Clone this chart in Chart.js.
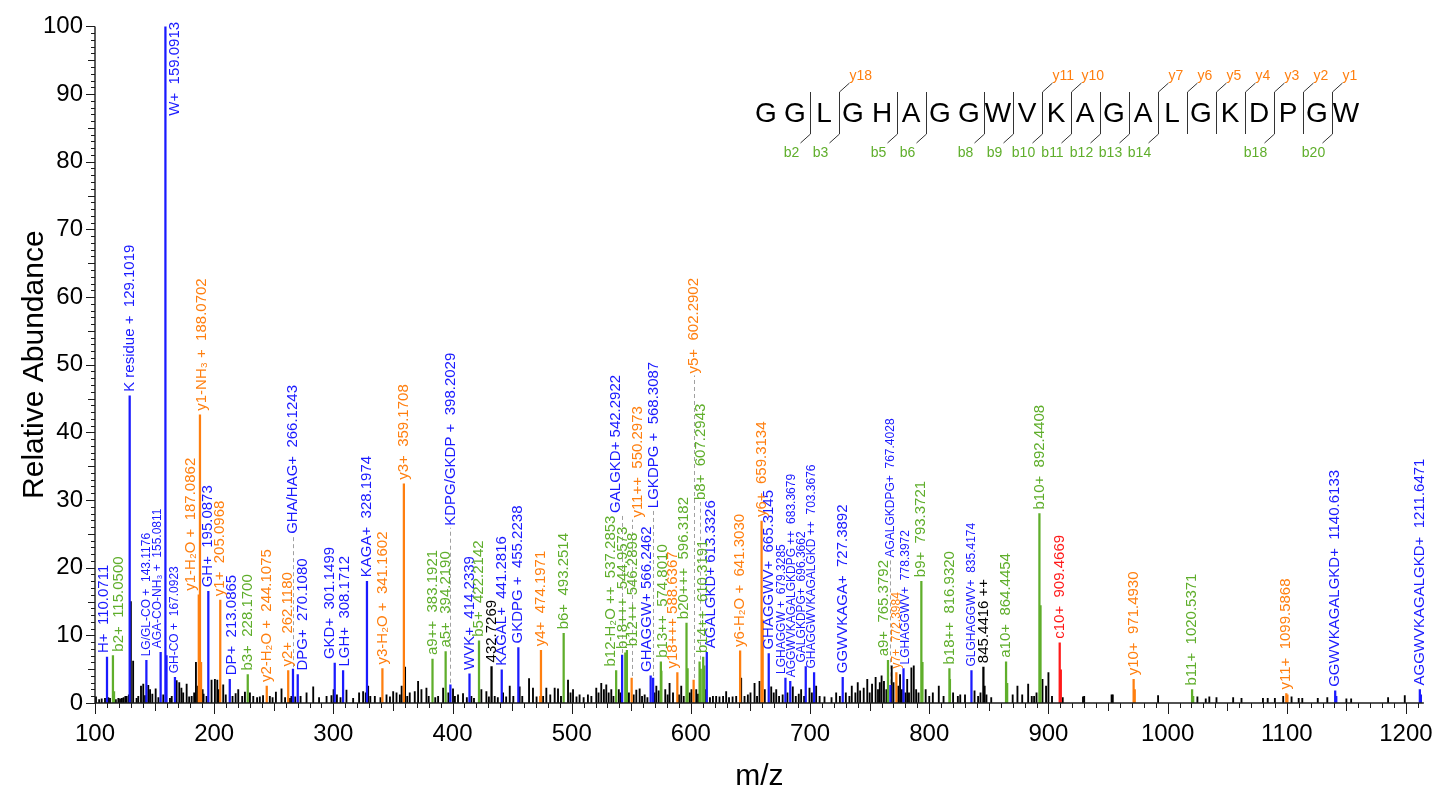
<!DOCTYPE html>
<html>
<head>
<meta charset="utf-8">
<title>MS/MS spectrum GGLGHAGGWVKAGALGKDPGW</title>
<script src="https://cdn.jsdelivr.net/npm/chart.js@4.4.1/dist/chart.umd.min.js"></script>
<style>
  html, body { margin: 0; padding: 0; background: #ffffff; }
  #wrap { width: 1450px; height: 802px; }
</style>
</head>
<body>
<div id="wrap"><canvas id="spec" width="1450" height="802"></canvas></div>
<script>
// ---- Annotated fragment ions: m/z, relative abundance, label ('#' = m/z) ----
const internalMz  = [110.0711, 129.1019, 143.1176, 155.0811, 159.0913, 167.0923, 195.0873, 213.0865, 266.1243, 270.1080,
                     301.1499, 308.1712, 328.1974, 398.2029, 414.2339, 441.2816, 455.2238, 542.2922, 566.2462, 568.3087,
                     613.3326, 665.3145, 679.3285, 683.3679, 696.3662, 703.3676, 727.3892, 767.4028, 778.3972, 835.4174,
                     1140.6133, 1211.6471];
const internalInt = [6.8, 45.4, 6.3, 7.5, 100, 3.8, 16.5, 3.5, 5.0, 4.2,
                     5.9, 4.8, 18.0, 2.7, 4.3, 4.9, 8.2, 7.1, 4.0, 3.7,
                     7.5, 7.3, 3.7, 3.2, 5.4, 4.5, 3.8, 2.6, 5.1, 4.8,
                     1.8, 2.0];
const internalLbl = ['H+  #', 'K residue +  #', 'LG/GL-CO +  #', 'AGA-CO-NH\u2083 +  #', 'W+  #', 'GH-CO +  #', 'GH+  #', 'DP+  #', 'GHA/HAG+  #', 'DPG+  #',
                     'GKD+  #', 'LGH+  #', 'KAGA+  #', 'KDPG/GKDP +  #', 'WVK+  #', 'KAGAL+  #', 'GKDPG +  #', 'GALGKD+ #', 'GHAGGW+ #', 'LGKDPG +  #',
                     'AGALGKD+ #', 'GHAGGWV+  #', 'LGHAGGW +  #', 'AGGWVKAGALGKDPG ++  #', 'GALGKDPG+  #', 'GHAGGWVKAGALGKD ++  #', 'GGWVKAGA+  #', 'AGALGKDPG+  #', 'LGHAGGWV+  #', 'GLGHAGGWV+  #',
                     'GGWVKAGALGKD+  #', 'AGGWVKAGALGKD+  #'];

const yIonMz  = [187.0862, 188.0702, 205.0968, 244.1075, 262.1180, 341.1602, 359.1708, 474.1971, 550.2973, 588.6367,
                 602.2902, 641.3030, 659.3134, 772.3984, 971.4930, 1099.5868];
const yIonInt = [16.0, 42.6, 15.2, 2.5, 4.8, 5.1, 32.4, 7.8, 3.7, 4.5,
                 3.4, 7.7, 26.9, 4.5, 3.5, 1.4];
const yIonLbl = ['y1-H\u2082O +  #', 'y1-NH\u2083 +  #', 'y1+  #', 'y2-H\u2082O +  #', 'y2+  #', 'y3-H\u2082O +  #', 'y3+  #', 'y4+  #', 'y11++  #', 'y18+++ #',
                 'y5+  #', 'y6-H\u2082O +  #', 'y6+  #', 'y7+  #', 'y10+  #', 'y11+  #'];

const bIonMz  = [115.0500, 228.1700, 383.1921, 394.2190, 422.2142, 493.2514, 537.2853, 544.9573, 546.2898, 574.8010,
                 596.3182, 607.2943, 610.3191, 765.3792, 793.3721, 816.9320, 864.4454, 892.4408, 1020.5371];
const bIonInt = [7.0, 4.2, 6.5, 7.6, 9.2, 10.3, 4.8, 7.4, 7.8, 6.1,
                 11.8, 6.1, 6.8, 6.3, 18.0, 5.1, 6.1, 28.0, 2.0];
const bIonLbl = ['b2+  #', 'b3+  #', 'a9++  #', 'a5+  #', 'b5+  #', 'b6+  #', 'b12-H\u2082O ++  #', 'b18+++  #', 'b12++  #', 'b13++  #',
                 'b20+++  #', 'b8+  #', 'b14++  #', 'a9+  #', 'b9+  #', 'b18++  #', 'a10+  #', 'b10+  #', 'b11+  #'];

const cIonMz  = [909.4669];
const cIonInt = [8.9];
const cIonLbl = ['c10+  #'];

const otherMz  = [432.7269, 845.4416];
const otherInt = [5.4, 5.3];
const otherLbl = ['#', '# ++'];

// ---- Unlabelled isotope / satellite peaks of the annotated ions ----
const internalIso = [[160.09, 7.0], [1141.6, 1.0], [1212.6, 1.2]];
const yIonIso     = [[189.07, 6.0], [660.32, 12.3], [972.50, 2.0], [1100.59, 1.2], [473.5, 1.0]];
const bIonIso     = [[116.05, 1.7], [575.30, 4.7], [597.32, 5.1], [794.37, 6.0], [817.43, 3.5], [865.45, 2.9], [893.44, 14.4], [1021.54, 1.0], [608.3, 5.0], [611.3, 5.5]];
const cIonIso     = [[910.47, 4.9]];

// ---- Unassigned peaks ----
const noisePeaks = [
  [100.8,0.9],[103.5,0.5],[105.6,0.6],[108.4,0.7],[111.2,0.8],[112.6,0.7],[117.5,0.5],[119.6,0.7],[121.0,0.6],[122.6,0.7],
  [124.0,0.8],[125.5,1.0],[126.6,1.0],[128.4,1.2],[130.1,15.0],[132.0,6.2],[134.9,0.7],[136.3,1.0],[138.6,2.5],[140.5,2.8],
  [142.0,1.1],[144.7,2.6],[146.2,2.0],[148.1,1.3],[150.9,2.1],[153.2,0.8],[157.3,1.2],[162.9,0.7],[164.4,1.0],
  [168.5,3.3],[170.7,3.0],[172.5,2.2],[174.0,1.5],[176.9,2.8],[179.0,0.9],[181.1,1.0],[183.2,1.5],[184.7,6.0],[186.2,2.5],
  [190.3,2.0],[191.1,1.3],[193.6,1.0],[197.8,3.4],[200.6,3.5],[202.6,3.4],[204.0,2.0],[207.6,2.7],[209.7,1.2],[215.4,1.0],
  [218.0,1.4],[220.2,2.0],[223.5,1.0],[225.8,1.6],[230.0,1.5],[232.8,1.0],[236.0,0.8],[238.3,0.9],[241.0,1.1],[246.7,1.0],
  [249.0,0.8],[251.8,1.6],[256.5,2.1],[259.5,0.8],[263.5,0.7],[264.8,1.0],[268.0,0.9],[272.5,1.0],[277.5,1.5],[283.1,2.4],
  [288.0,0.8],[294.3,1.0],[298.4,1.1],[300.2,2.0],[303.0,1.2],[306.0,0.8],[311.0,1.9],[316.6,0.7],[321.6,1.5],[325.0,1.7],
  [327.2,1.5],[329.2,2.5],[331.0,1.0],[334.8,1.0],[339.5,0.8],[344.6,1.2],[347.5,0.9],[350.2,1.7],[353.0,1.5],[355.8,1.2],
  [357.3,2.5],[360.2,5.3],[362.0,1.0],[364.1,1.5],[368.3,1.7],[371.1,3.2],[373.9,2.0],[378.1,2.2],[380.0,1.0],[385.5,0.8],
  [387.9,1.0],[392.1,2.2],[396.5,1.5],[400.4,2.1],[402.0,1.0],[404.6,1.2],[408.8,1.4],[412.0,0.8],[415.8,1.0],[418.0,0.7],
  [424.2,2.0],[428.4,1.7],[430.5,0.9],[435.4,1.0],[438.0,0.8],[442.4,1.5],[445.0,0.9],[448.0,2.5],[451.0,1.0],[456.3,2.4],
  [458.5,1.0],[464.2,3.6],[467.5,2.2],[470.5,0.9],[476.0,1.0],[478.7,2.2],[482.0,1.2],[485.7,2.2],[488.5,2.1],[491.0,1.0],
  [496.9,3.4],[499.0,1.5],[501.1,2.0],[504.0,0.9],[506.6,1.2],[510.0,0.8],[513.6,1.2],[516.5,1.0],[520.6,2.2],[522.5,1.5],
  [524.8,2.9],[527.0,2.0],[529.0,2.7],[531.0,1.5],[533.2,2.0],[535.0,1.0],[539.5,2.0],[541.0,1.5],[548.0,1.5],[552.0,1.2],
  [554.2,1.9],[557.0,2.1],[559.0,1.0],[561.2,1.2],[563.5,0.8],[569.5,1.5],[571.0,2.5],[573.0,1.8],[578.5,2.0],[580.5,1.2],
  [582.1,2.9],[585.0,1.5],[590.0,1.2],[591.9,2.5],[594.0,1.0],[599.0,1.5],[600.5,2.0],[604.5,2.0],[606.0,1.3],[612.0,2.0],
  [616.0,0.8],[618.5,1.0],[621.2,1.0],[624.0,0.9],[627.0,1.0],[629.6,1.7],[632.0,0.8],[635.0,0.9],[638.0,1.0],[642.2,3.7],
  [645.0,1.0],[647.8,1.2],[650.0,1.5],[653.4,2.9],[655.5,1.0],[657.6,3.2],[662.0,2.0],[667.4,2.4],[669.5,1.5],[671.6,2.0],
  [674.0,1.0],[677.0,1.2],[681.0,1.5],[685.5,2.4],[688.0,1.0],[690.5,1.3],[692.5,2.0],[695.0,1.0],[699.5,2.2],[701.5,1.5],
  [705.1,2.5],[708.0,1.0],[712.1,0.9],[718.0,0.8],[721.9,1.5],[725.0,1.0],[730.0,1.5],[733.0,1.0],[735.0,2.5],[738.0,1.5],
  [740.0,3.0],[742.0,1.8],[745.0,2.2],[748.0,3.5],[750.0,1.5],[752.0,2.8],[755.0,3.8],[757.0,2.0],[758.5,3.0],[760.0,4.0],
  [762.0,3.2],[764.0,2.0],[768.5,5.5],[770.0,3.0],[774.0,2.5],[775.5,4.2],[777.0,2.0],[780.0,1.5],[781.5,3.5],[783.0,1.5],
  [785.0,5.2],[787.0,5.5],[789.0,2.0],[791.0,1.5],[797.0,2.0],[800.0,1.0],[803.0,1.5],[808.0,2.5],[812.0,1.0],[820.0,1.5],
  [824.0,1.0],[826.0,1.2],[830.0,1.2],[838.0,1.8],[841.0,1.0],[843.0,1.5],[846.5,2.5],[848.0,1.2],[852.0,0.8],[870.0,1.2],
  [874.0,2.5],[878.0,1.2],[883.0,2.8],[886.0,1.0],[888.0,1.0],[890.0,1.5],[895.0,3.5],[898.0,2.5],[900.0,4.5],[903.0,1.0],
  [912.0,0.8],[929.0,0.9],[930.0,1.0],[953.0,1.2],[954.0,1.2],[992.0,1.1],[1025.0,0.9],[1032.0,0.6],[1035.0,0.9],[1041.0,0.8],
  [1055.0,0.8],[1062.0,0.7],[1080.0,0.7],[1084.0,0.7],[1090.0,0.7],[1097.0,1.0],[1104.0,0.9],[1110.0,0.7],[1113.0,0.7],[1126.0,0.7],
  [1134.0,0.8],[1150.0,0.6],[1154.0,0.6],[1185.0,0.8],[1199.0,1.1]
];

// ---- Peptide sequence and observed cleavage sites ----
const sequence  = ['G','G','L','G','H','A','G','G','W','V','K','A','G','A','L','G','K','D','P','G','W'];
const bSeries   = [2, 3, 5, 6, 8, 9, 10, 11, 12, 13, 14, 18, 20];
const ySeries   = [18, 11, 10, 7, 6, 5, 4, 3, 2, 1];

// ---- Axis ticks ----
const xTickValues = [100, 200, 300, 400, 500, 600, 700, 800, 900, 1000, 1100, 1200];
const yTickValues = [0, 10, 20, 30, 40, 50, 60, 70, 80, 90, 100];

// ---- Styling ----
const FONT = '"Liberation Sans", Arial, Helvetica, sans-serif';
const COLORS = { internal: '#1a1aff', y: '#ff7f0f', b: '#5fae2b', c: '#ff1a1a', other: '#000000', noise: '#000000' };
const smallLabels = new Set(['143.1176', '155.0811', '167.0923', '679.3285', '683.3679', '696.3662', '703.3676',
                             '767.4028', '772.3984', '778.3972', '835.4174']);
// label placement tweaks: dx (px, horizontal shift), at (abundance where the label starts), lead (dashed leader)
const labelPlace = {
  '110.0711': { dx: -3 }, '115.0500': { dx: 6 }, '155.0811': { dx: -3 }, '159.0913': { dx: 9, at: 86.8 },
  '187.0862': { dx: -8 }, '188.0702': { dx: 2 },
  '213.0865': { dx: 2 }, '270.1080': { dx: 5 }, '301.1499': { dx: -5 }, '308.1712': { dx: 2 },
  '266.1243': { at: 25.0, lead: true }, '398.2029': { at: 26.2, lead: true },
  '537.2853': { dx: -5 }, '542.2922': { dx: -6, at: 28.1, lead: true }, '544.9573': { dx: -2 }, '546.2898': { dx: 6 },
  '550.2973': { dx: 6, at: 27.4, lead: true }, '566.2462': { dx: -4 }, '568.3087': { dx: 1, at: 28.8, lead: true },
  '574.8010': { dx: 2 }, '588.6367': { dx: -4 }, '596.3182': { dx: -3 }, '602.2902': { at: 48.7, lead: true },
  '607.2943': { dx: 1, at: 30.0, lead: true }, '613.3326': { dx: 4 },
  '679.3285': { dx: -4 }, '683.3679': { dx: 1 }, '696.3662': { dx: -4 }, '703.3676': { dx: -2 },
  '765.3792': { dx: -4 }, '767.4028': { at: 21.5, lead: true }, '778.3972': { dx: 2 }
};

function pts(mz, it) { return mz.map((m, i) => ({ x: m, y: it[i] })); }
function pairPts(arr) { return arr.map(p => ({ x: p[0], y: p[1] })); }
function stick(data, color, w, order) {
  return { type: 'bar', data, backgroundColor: color, borderWidth: 0, barThickness: w,
           grouped: false, order };
}

const annotated = [
  { mz: internalMz, it: internalInt, lbl: internalLbl, color: COLORS.internal },
  { mz: yIonMz, it: yIonInt, lbl: yIonLbl, color: COLORS.y },
  { mz: bIonMz, it: bIonInt, lbl: bIonLbl, color: COLORS.b },
  { mz: cIonMz, it: cIonInt, lbl: cIonLbl, color: COLORS.c },
  { mz: otherMz, it: otherInt, lbl: otherLbl, color: COLORS.other }
];

// Peak labels, dashed leaders and the sequence coverage map
const annotationPlugin = {
  id: 'annotations',
  afterDatasetsDraw(chart) {
    const ctx = chart.ctx, xs = chart.scales.x, ys = chart.scales.y;
    ctx.save();
    annotated.forEach(g => {
      g.mz.forEach((m, i) => {
        const key = m.toFixed(4);
        const pl = labelPlace[key] || {};
        const px = xs.getPixelForValue(m);
        const top = ys.getPixelForValue(g.it[i]);
        const startY = pl.at !== undefined ? ys.getPixelForValue(pl.at) : top - 4;
        if (pl.lead) {
          ctx.save();
          ctx.strokeStyle = '#a0a0a0';
          ctx.lineWidth = 1;
          ctx.setLineDash([4, 3]);
          ctx.beginPath();
          ctx.moveTo(Math.round(px) + 0.5, top - 2);
          ctx.lineTo(Math.round(px) + 0.5, startY + 2);
          ctx.stroke();
          ctx.restore();
        }
        const text = g.lbl[i].replace('#', key);
        const size = smallLabels.has(key) ? 12 : 15;
        ctx.save();
        ctx.translate(px + (pl.dx || 0), startY);
        ctx.rotate(-Math.PI / 2);
        ctx.font = size + 'px ' + FONT;
        ctx.fillStyle = g.color;
        ctx.textAlign = 'left';
        ctx.textBaseline = 'middle';
        ctx.fillText(text, 0, 0);
        ctx.restore();
      });
    });
    ctx.restore();
  },
  afterDraw(chart) {
    const ctx = chart.ctx, xs = chart.scales.x, ys = chart.scales.y;
    const ca = chart.chartArea;
    ctx.save();
    // axis lines
    ctx.strokeStyle = '#1a1a1a';
    ctx.lineWidth = 1.4;
    ctx.beginPath();
    ctx.moveTo(ca.left, ca.top);
    ctx.lineTo(ca.left, ca.bottom);
    ctx.lineTo(ca.right, ca.bottom);
    ctx.stroke();
    // minor / major tick marks
    ctx.lineWidth = 1;
    ctx.beginPath();
    for (let v = 0; v <= 100; v += 1) {
      const py = Math.round(ys.getPixelForValue(v)) + 0.5;
      const len = v % 10 === 0 ? 9 : (v % 5 === 0 ? 7 : 4);
      ctx.moveTo(ca.left - len, py);
      ctx.lineTo(ca.left, py);
    }
    for (let v = 100; v <= xs.max; v += 10) {
      const px = Math.round(xs.getPixelForValue(v)) + 0.5;
      const len = v % 100 === 0 ? 11 : (v % 50 === 0 ? 8 : 5);
      ctx.moveTo(px, ca.bottom);
      ctx.lineTo(px, ca.bottom + len);
    }
    ctx.stroke();
    // axis titles
    ctx.fillStyle = '#000';
    ctx.font = '30px ' + FONT;
    ctx.textAlign = 'center';
    ctx.textBaseline = 'middle';
    ctx.fillText('m/z', (ca.left + ca.right) / 2, 777);
    ctx.save();
    ctx.translate(35, (ca.top + ca.bottom) / 2);
    ctx.rotate(-Math.PI / 2);
    ctx.fillText('Relative Abundance', 0, 0);
    ctx.restore();

    // sequence coverage map
    const x0 = 766, step = 29, yc = 113;
    ctx.font = '28px ' + FONT;
    ctx.fillStyle = '#000';
    ctx.textAlign = 'center';
    ctx.textBaseline = 'middle';
    sequence.forEach((aa, i) => ctx.fillText(aa, x0 + i * step, yc + 1));
    const n = sequence.length;
    const sites = new Set([...bSeries, ...ySeries.map(k => n - k)]);
    ctx.strokeStyle = '#333';
    ctx.lineWidth = 1;
    ctx.beginPath();
    sites.forEach(s => {
      const sx = Math.round(x0 + (s - 1) * step + step / 2) + 0.5;
      ctx.moveTo(sx, 92);
      ctx.lineTo(sx, 134);
    });
    bSeries.forEach(s => {
      const sx = Math.round(x0 + (s - 1) * step + step / 2) + 0.5;
      ctx.moveTo(sx, 134);
      ctx.lineTo(sx - 10, 143);
    });
    ySeries.forEach(k => {
      const sx = Math.round(x0 + (n - k - 1) * step + step / 2) + 0.5;
      ctx.moveTo(sx, 92);
      ctx.lineTo(sx + 10, 83);
    });
    ctx.stroke();
    ctx.font = '14px ' + FONT;
    ctx.fillStyle = COLORS.b;
    ctx.textAlign = 'center';
    bSeries.forEach(s => {
      const sx = x0 + (s - 1) * step + step / 2;
      ctx.fillText('b' + s, sx - 18, 153);
    });
    ctx.fillStyle = COLORS.y;
    ctx.textAlign = 'left';
    ySeries.forEach(k => {
      const sx = x0 + (n - k - 1) * step + step / 2;
      ctx.fillText('y' + k, sx + 11, 76);
    });
    ctx.restore();
  }
};

const chart = new Chart(document.getElementById('spec'), {
  type: 'bar',
  data: {
    datasets: [
      stick(pts(internalMz, internalInt), COLORS.internal, 1.6, 1),
      stick(pts(yIonMz, yIonInt), COLORS.y, 1.6, 1),
      stick(pts(bIonMz, bIonInt), COLORS.b, 1.6, 1),
      stick(pts(cIonMz, cIonInt), COLORS.c, 1.6, 1),
      stick(pts(otherMz, otherInt), COLORS.other, 1.6, 1),
      stick(pairPts(internalIso), COLORS.internal, 1.4, 2),
      stick(pairPts(yIonIso), COLORS.y, 1.4, 2),
      stick(pairPts(bIonIso), COLORS.b, 1.4, 2),
      stick(pairPts(cIonIso), COLORS.c, 1.4, 2),
      stick(pairPts(noisePeaks), COLORS.noise, 1.2, 3)
    ]
  },
  options: {
    responsive: false,
    animation: false,
    devicePixelRatio: 1,
    layout: { padding: { top: 23, right: 25, left: 0, bottom: 0 } },
    plugins: { legend: { display: false }, tooltip: { enabled: false }, title: { display: false } },
    scales: {
      x: {
        type: 'linear',
        offset: false,
        min: 100,
        max: 1215,
        afterBuildTicks: s => { s.ticks = xTickValues.map(v => ({ value: v })); },
        afterFit: s => { s.height = 99; },
        ticks: { font: { family: FONT, size: 24 }, color: '#000', padding: 17, maxRotation: 0, autoSkip: false,
                 callback: v => String(v) },
        grid: { display: false, drawTicks: false, offset: false },
        border: { display: false }
      },
      y: {
        type: 'linear',
        min: 0,
        max: 100,
        afterBuildTicks: s => { s.ticks = yTickValues.map(v => ({ value: v })); },
        afterFit: s => { s.width = 95; },
        ticks: { font: { family: FONT, size: 24 }, color: '#000', padding: 12, callback: v => String(v) },
        grid: { display: false, drawTicks: false },
        border: { display: false }
      }
    }
  },
  plugins: [annotationPlugin]
});
</script>
</body>
</html>
